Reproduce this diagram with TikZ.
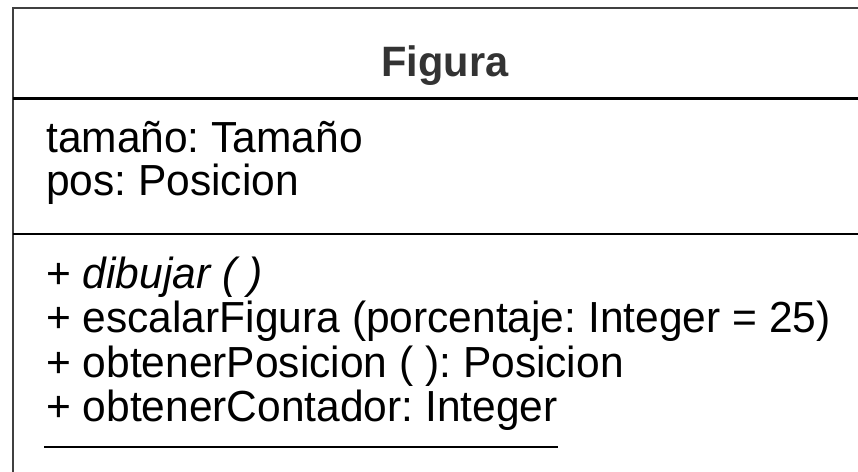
\documentclass[tikz,border=0pt]{standalone}
\usepackage{fontspec}
\setmainfont{Liberation Sans}[FakeStretch=0.977]
\definecolor{framegray}{HTML}{404040}
\definecolor{titlegray}{HTML}{333333}
\begin{document}
\frenchspacing
\begin{tikzpicture}[x=1pt,y=-1pt,
        member/.style={anchor=base west,inner sep=0pt,font=\fontsize{43.5}{44}\selectfont},
        classname/.style={anchor=base,inner sep=0pt,text=titlegray,font=\fontsize{42.5}{44}\selectfont\bfseries},
        frame/.style={draw=framegray,line width=2.8pt},
        rule/.style={draw=black,line width=2.6pt}]
    \useasboundingbox (0,0) rectangle (858,471);
    \clip (0,0) rectangle (858,471);
    % class box, cut off on the right and at the bottom
    \draw[frame] (13,480) -- (13,8) -- ++(870,0);
    \draw[rule] (13,98.5) -- ++(870,0);
    \draw[rule] (13,234) -- ++(870,0);

    \node[classname] (figura) at (445,76) {Figura};

    \node[member] (tamano) at (46,152) {tamaño: Tamaño};
    \node[member] (pos) at (46,195) {pos: Posicion};

    \node[member] (dibujar) at (46,288) {+ \textit{dibujar ( )}};
    \node[member] (escalar) at (46,332.5) {+ escalarFigura (porcentaje: Integer = 25)};
    \node[member] (obtpos) at (46,377) {+ obtenerPosicion ( ): Posicion};
    \node[member] (obtcont) at (46,421.5) {+ obtenerContador: Integer};
    % static member underline
    \draw[line width=2.4pt] ([xshift=-2pt,yshift=-25.5pt]obtcont.base west) -- ([yshift=-25.5pt]obtcont.base east);
\end{tikzpicture}
\end{document}
